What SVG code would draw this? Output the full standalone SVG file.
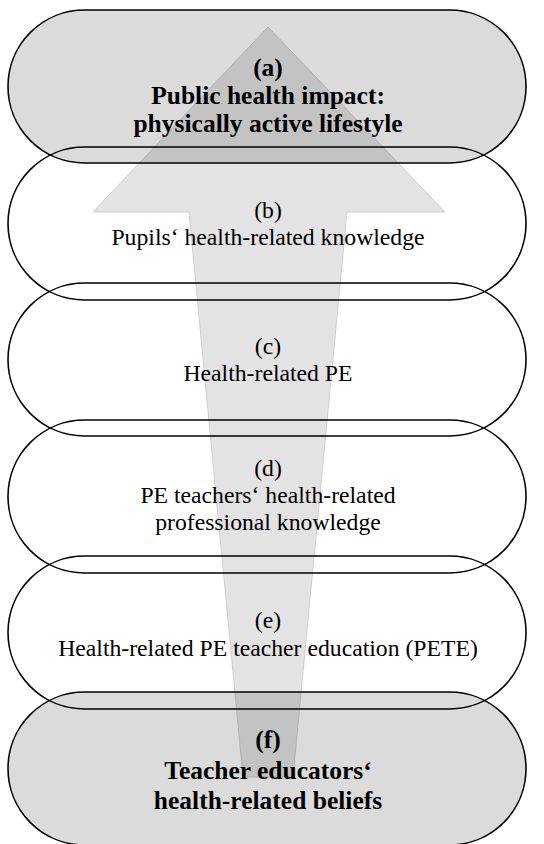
<svg xmlns="http://www.w3.org/2000/svg" width="544" height="844" viewBox="0 0 544 844">
<style>
.stad{fill:none;stroke:#000;stroke-width:1.6}
.dark{fill:#000;fill-opacity:0.14}
.t{font-family:"Liberation Serif","Times New Roman",serif;font-size:23.7px;text-anchor:middle;fill:#000}
.b{font-weight:bold;font-size:25.5px}
</style>
<rect width="544" height="844" fill="#fff"/>
<g id="connectors">
<polygon points="268,27 445,212 347,212 293,777 243,777 189,212 93,212" fill="#e3e3e3" stroke="#cfcfcf" stroke-width="1"/>
</g>
<g id="node-a">
<rect class="stad dark" x="8" y="10" width="518" height="153" rx="76.5"/>
<text class="t b" x="268" y="76">(a)</text>
<text class="t b" x="268" y="104">Public health impact:</text>
<text class="t b" x="268" y="132">physically active lifestyle</text>
</g>
<g id="node-b">
<rect class="stad" x="8" y="147" width="518" height="153" rx="76.5"/>
<text class="t" x="268" y="218">(b)</text>
<text class="t" x="268" y="245">Pupils‘ health-related knowledge</text>
</g>
<g id="node-c">
<rect class="stad" x="8" y="283" width="518" height="153" rx="76.5"/>
<text class="t" x="268" y="354">(c)</text>
<text class="t" x="268" y="381">Health-related PE</text>
</g>
<g id="node-d">
<rect class="stad" x="8" y="420" width="518" height="153" rx="76.5"/>
<text class="t" x="268" y="476">(d)</text>
<text class="t" x="268" y="503">PE teachers‘ health-related</text>
<text class="t" x="268" y="530">professional knowledge</text>
</g>
<g id="node-e">
<rect class="stad" x="8" y="556" width="518" height="153" rx="76.5"/>
<text class="t" x="268" y="628">(e)</text>
<text class="t" x="268" y="656">Health-related PE teacher education (PETE)</text>
</g>
<g id="node-f">
<rect class="stad dark" x="8" y="692" width="518" height="153" rx="76.5"/>
<text class="t b" x="268" y="748">(f)</text>
<text class="t b" x="268" y="779">Teacher educators‘</text>
<text class="t b" x="268" y="809">health-related beliefs</text>
</g>
</svg>
